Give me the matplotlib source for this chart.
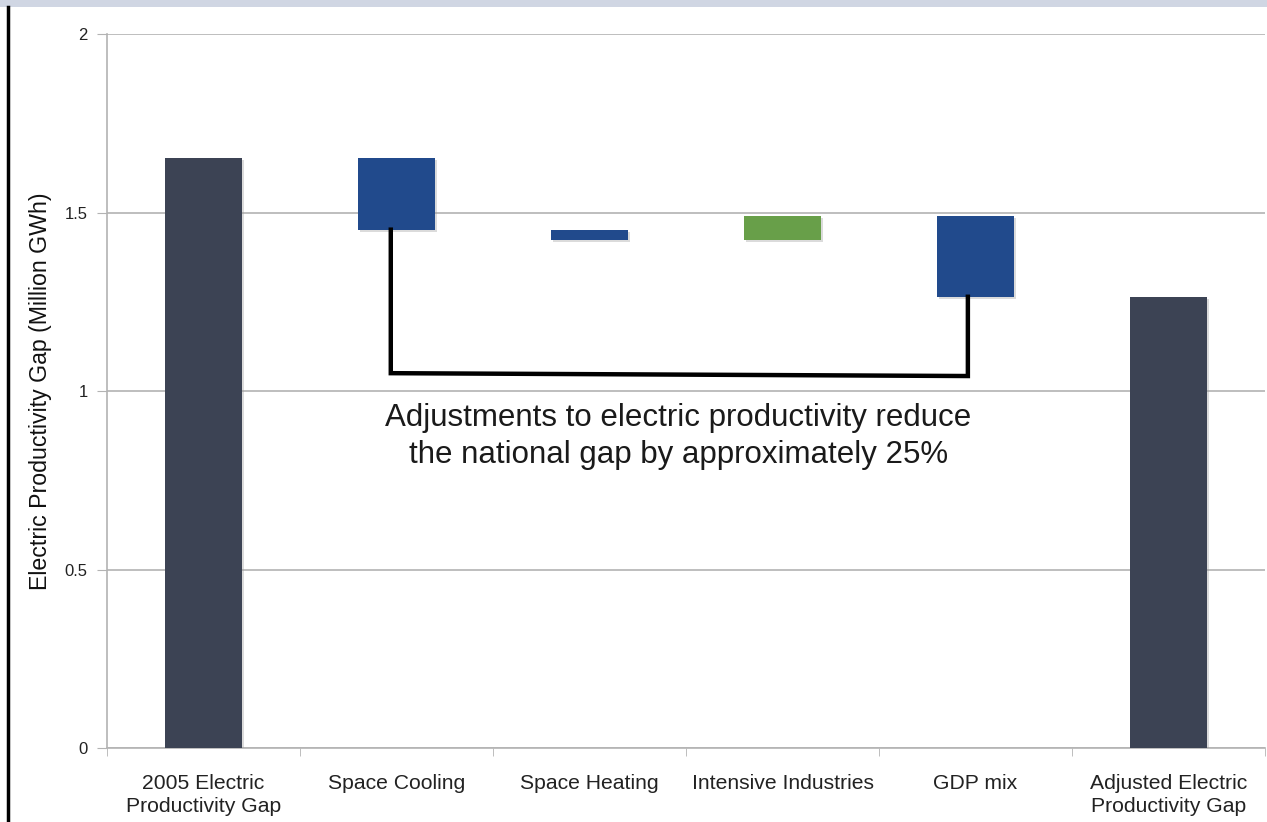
import matplotlib
matplotlib.use("Agg")
import matplotlib.pyplot as plt
from matplotlib.patches import Rectangle
import matplotlib.patheffects as pe
import numpy as np

plt.rcParams.update({"font.family": ["Liberation Sans", "DejaVu Sans"]})

categories = ["2005 Electric\nProductivity Gap", "Space Cooling", "Space Heating",
              "Intensive Industries", "GDP mix", "Adjusted Electric\nProductivity Gap"]
start_gap = 1.652
deltas = [-0.200, -0.029, 0.068, -0.227]
yticks = [0, 0.5, 1, 1.5, 2]
ytick_labels = ["0", "0.5", "1", "1.5", "2"]

DARK = "#3c4354"; BLUE = "#214a8c"; GREEN = "#689f49"; GRID = "#b3b3b3"

levels = start_gap + np.cumsum([0] + deltas)   # running totals
end_gap = levels[-1]

fig = plt.figure(figsize=(12.67, 8.22), dpi=100)
ax = fig.add_axes([0.0845, 0.09, 0.914, 0.8686])

shadow = [pe.SimplePatchShadow(offset=(1.5, -1.5), shadow_rgbFace="#999999", alpha=0.35), pe.Normal()]
w = 0.4
x = np.arange(len(categories))

b = ax.bar(x[0], start_gap, width=w, color=DARK, zorder=3)
for p in b: p.set_path_effects(shadow)
for i, d in enumerate(deltas):
    lo, hi = sorted([levels[i], levels[i + 1]])
    b = ax.bar(x[i + 1], hi - lo, bottom=lo, width=w,
               color=GREEN if d > 0 else BLUE, zorder=3)
    for p in b: p.set_path_effects(shadow)
b = ax.bar(x[-1], end_gap, width=w, color=DARK, zorder=3)
for p in b: p.set_path_effects(shadow)

# bracket between space cooling and GDP mix
ax.plot([0.97, 0.97, 3.96, 3.96], [levels[1], 1.050, 1.042, levels[-1]],
        color="black", lw=3.2, zorder=4, solid_joinstyle="miter")
ax.text(2.46, 0.872, "Adjustments to electric productivity reduce\nthe national gap by approximately 25%",
        ha="center", va="center", fontsize=22.5, color="#1a1a1a", linespacing=1.3, zorder=5)

ax.set_xlim(-0.5, 5.5)
ax.set_ylim(0, 2)
ax.set_yticks(yticks, ytick_labels)
ax.set_xticks(x, categories, linespacing=1.25)
ax.set_xticks(np.arange(-0.5, 6, 1), minor=True)
ax.tick_params(axis="x", which="major", length=0, labelsize=15.2, pad=19, colors="#222222")
ax.tick_params(axis="x", which="minor", length=6, color=GRID, direction="out")
ax.tick_params(axis="y", length=7, color=GRID, labelsize=12, pad=7, colors="#222222")
ax.tick_params(axis="y", color=GRID)
ax.yaxis.grid(True, color=GRID, lw=1.2, zorder=0)
ax.set_axisbelow(True)
for s in ["top", "right"]:
    ax.spines[s].set_visible(False)
for s in ["left", "bottom"]:
    ax.spines[s].set_color(GRID)
    ax.spines[s].set_linewidth(1.2)
ax.set_ylabel("Electric Productivity Gap (Million GWh)", fontsize=16.7, color="#111111")
ax.yaxis.set_label_coords(-0.0475, 0.5)

# top band and left frame line
fig.patches.append(Rectangle((0, 1 - 7 / 822), 1, 7 / 822, transform=fig.transFigure,
                             facecolor="#d0d6e3", edgecolor="none"))
fig.lines.append(plt.Line2D([8 / 1267, 8 / 1267], [0, 1 - 7 / 822], transform=fig.transFigure,
                            color="black", lw=2.5))

fig.savefig("out.png", dpi=100, facecolor="white")
